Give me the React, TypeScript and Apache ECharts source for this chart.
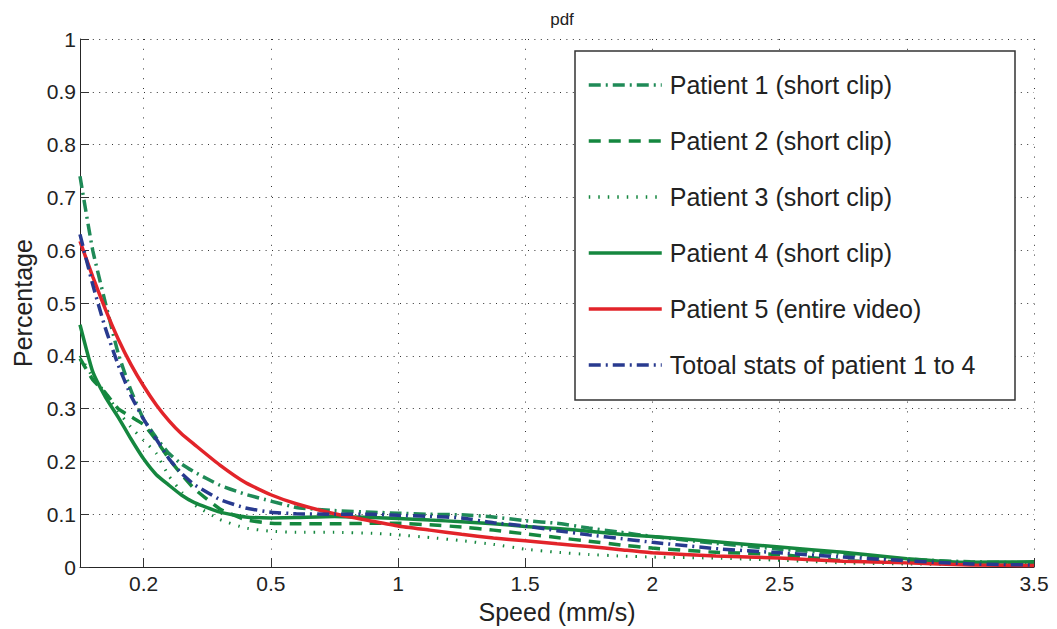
import React, { useEffect, useRef } from "react";
import * as echarts from "echarts";

// Axis positions (the first tick is labelled "0.2" in the original figure)
const xTickValues = [0, 0.5, 1, 1.5, 2, 2.5, 3, 3.5];
const xTickLabels = ["0.2", "0.5", "1", "1.5", "2", "2.5", "3", "3.5"];
const yTickLabels = ["0", "0.1", "0.2", "0.3", "0.4", "0.5", "0.6", "0.7", "0.8", "0.9", "1"];

const speed = [-0.25, -0.2, -0.15, -0.1, -0.05, 0, 0.05, 0.1, 0.15, 0.2, 0.3, 0.4, 0.5, 0.6, 0.75, 0.9, 1.0, 1.125, 1.25, 1.375, 1.5, 1.625, 1.75, 1.875, 2.0, 2.25, 2.5, 2.75, 3.0, 3.25, 3.5];

const patient1 = [0.74, 0.6, 0.5, 0.405, 0.335, 0.28, 0.245, 0.215, 0.195, 0.18, 0.155, 0.138, 0.125, 0.113, 0.107, 0.104, 0.102, 0.1, 0.099, 0.095, 0.088, 0.083, 0.074, 0.066, 0.058, 0.045, 0.034, 0.025, 0.015, 0.01, 0.008];
const patient2 = [0.395, 0.355, 0.33, 0.3, 0.285, 0.27, 0.24, 0.205, 0.175, 0.148, 0.11, 0.09, 0.083, 0.082, 0.082, 0.083, 0.083, 0.08, 0.076, 0.07, 0.063, 0.056, 0.049, 0.042, 0.036, 0.028, 0.024, 0.012, 0.01, 0.008, 0.007];
const patient3 = [0.4, 0.36, 0.33, 0.295, 0.265, 0.24, 0.215, 0.172, 0.142, 0.118, 0.09, 0.074, 0.068, 0.066, 0.066, 0.064, 0.061, 0.056, 0.05, 0.043, 0.034, 0.028, 0.024, 0.021, 0.019, 0.017, 0.013, 0.008, 0.006, 0.005, 0.005];
const patient4 = [0.459, 0.37, 0.322, 0.284, 0.243, 0.205, 0.175, 0.155, 0.136, 0.122, 0.104, 0.095, 0.093, 0.094, 0.096, 0.094, 0.092, 0.089, 0.086, 0.082, 0.077, 0.073, 0.068, 0.062, 0.058, 0.048, 0.038, 0.028, 0.016, 0.009, 0.01];
const patient5 = [0.617, 0.55, 0.488, 0.432, 0.384, 0.343, 0.307, 0.277, 0.252, 0.232, 0.193, 0.16, 0.137, 0.12, 0.101, 0.087, 0.078, 0.07, 0.062, 0.055, 0.05, 0.044, 0.039, 0.033, 0.027, 0.021, 0.017, 0.011, 0.008, 0.004, 0.003];
const totalStats = [0.63, 0.535, 0.452, 0.383, 0.325, 0.28, 0.242, 0.205, 0.177, 0.156, 0.128, 0.112, 0.104, 0.101, 0.1, 0.1, 0.098, 0.096, 0.093, 0.084, 0.078, 0.069, 0.061, 0.054, 0.047, 0.035, 0.027, 0.019, 0.012, 0.006, 0.004];

const seriesNames = [
  "Patient 1 (short clip)",
  "Patient 2 (short clip)",
  "Patient 3 (short clip)",
  "Patient 4 (short clip)",
  "Patient 5 (entire video)",
  "Totoal stats of patient 1 to 4",
];

const GREEN = "#15873f";
const GREEN2 = "#1f8a57";
const RED = "#e2242a";
const NAVY = "#283a8f";
const FONT = '"Liberation Sans", Arial, Helvetica, sans-serif';
const TEXT = "#222222";

export default function App() {
  const ref = useRef<HTMLDivElement>(null);

  useEffect(() => {
    if (!ref.current) return;
    const chart = echarts.init(ref.current, null, { renderer: "svg" });

    const mk = (name: string, values: number[], color: string, type: any, width: number, z: number) => ({
      name,
      type: "line",
      data: speed.map((x, i) => [x, values[i]]),
      symbol: "none",
      showSymbol: false,
      smooth: 0.15,
      z,
      lineStyle: { color, width, type, cap: "butt" },
      itemStyle: { color },
    });

    chart.setOption({
      animation: false,
      textStyle: { fontFamily: FONT },
      title: {
        text: "pdf",
        left: 557,
        top: 6,
        textAlign: "center",
        textStyle: { fontSize: 17, fontWeight: "normal", color: TEXT, fontFamily: FONT },
      },
      grid: { left: 80, top: 39, right: 23, bottom: 60, containLabel: false },
      xAxis: {
        type: "value",
        min: -0.25,
        max: 3.5,
        name: "Speed (mm/s)",
        nameLocation: "middle",
        nameGap: 30,
        nameTextStyle: { fontSize: 25, color: TEXT, fontFamily: FONT },
        axisLine: { show: true, onZero: false, lineStyle: { color: "#262626", width: 1 } },
        axisTick: {
          show: true,
          inside: true,
          length: 9,
          customValues: xTickValues,
          lineStyle: { color: "#333", width: 1 },
        },
        axisLabel: {
          customValues: xTickValues,
          fontSize: 21,
          color: TEXT,
          margin: 6,
          fontFamily: FONT,
          formatter: (v: number) => {
            const i = xTickValues.findIndex((t) => Math.abs(t - v) < 1e-6);
            return i >= 0 ? xTickLabels[i] : "";
          },
        },
        splitLine: { show: true, lineStyle: { color: "#333", width: 1, type: [1, 8.8] } },
      },
      yAxis: {
        type: "value",
        min: 0,
        max: 1,
        interval: 0.1,
        name: "Percentage",
        nameLocation: "middle",
        nameGap: 45,
        nameTextStyle: { fontSize: 25, color: TEXT, fontFamily: FONT },
        axisLine: { show: true, onZero: false, lineStyle: { color: "#262626", width: 1 } },
        axisTick: { show: true, inside: true, length: 9, lineStyle: { color: "#333", width: 1 } },
        axisLabel: {
          fontSize: 21,
          color: TEXT,
          margin: 4,
          fontFamily: FONT,
          formatter: (v: number) => yTickLabels[Math.round(v * 10)] ?? "",
        },
        splitLine: { show: true, lineStyle: { color: "#333", width: 1, type: [1, 5.4] } },
      },
      legend: {
        orient: "vertical",
        left: 587,
        top: 69,
        padding: 0,
        itemWidth: 73,
        itemHeight: 14,
        itemGap: 24,
        selectedMode: false,
        data: seriesNames,
        lineStyle: { width: 3.5 },
        itemStyle: { opacity: 0 },
        textStyle: { fontSize: 25, lineHeight: 32, color: TEXT, fontFamily: FONT, padding: [0, 0, 0, 3] },
        z: 10,
      },
      graphic: [
        {
          type: "rect",
          z: 8,
          shape: { x: 575, y: 51, width: 440, height: 349 },
          style: { fill: "#ffffff", stroke: "#333333", lineWidth: 1.5 },
        },
      ],
      series: [
        mk(seriesNames[0], patient1, GREEN2, [12, 5, 2, 5], 3.5, 2),
        mk(seriesNames[1], patient2, GREEN, [12, 8], 3.5, 2),
        mk(seriesNames[2], patient3, GREEN, [1.5, 8], 3, 2),
        mk(seriesNames[3], patient4, GREEN, "solid", 3.5, 3),
        mk(seriesNames[4], patient5, RED, "solid", 3.5, 4),
        mk(seriesNames[5], totalStats, NAVY, [12, 5, 2, 5], 3.5, 5),
      ],
    });

    return () => chart.dispose();
  }, []);

  return (
    <div
      ref={ref}
      style={{ position: "fixed", left: 0, top: 0, width: 1057, height: 629, background: "#fff" }}
    />
  );
}
